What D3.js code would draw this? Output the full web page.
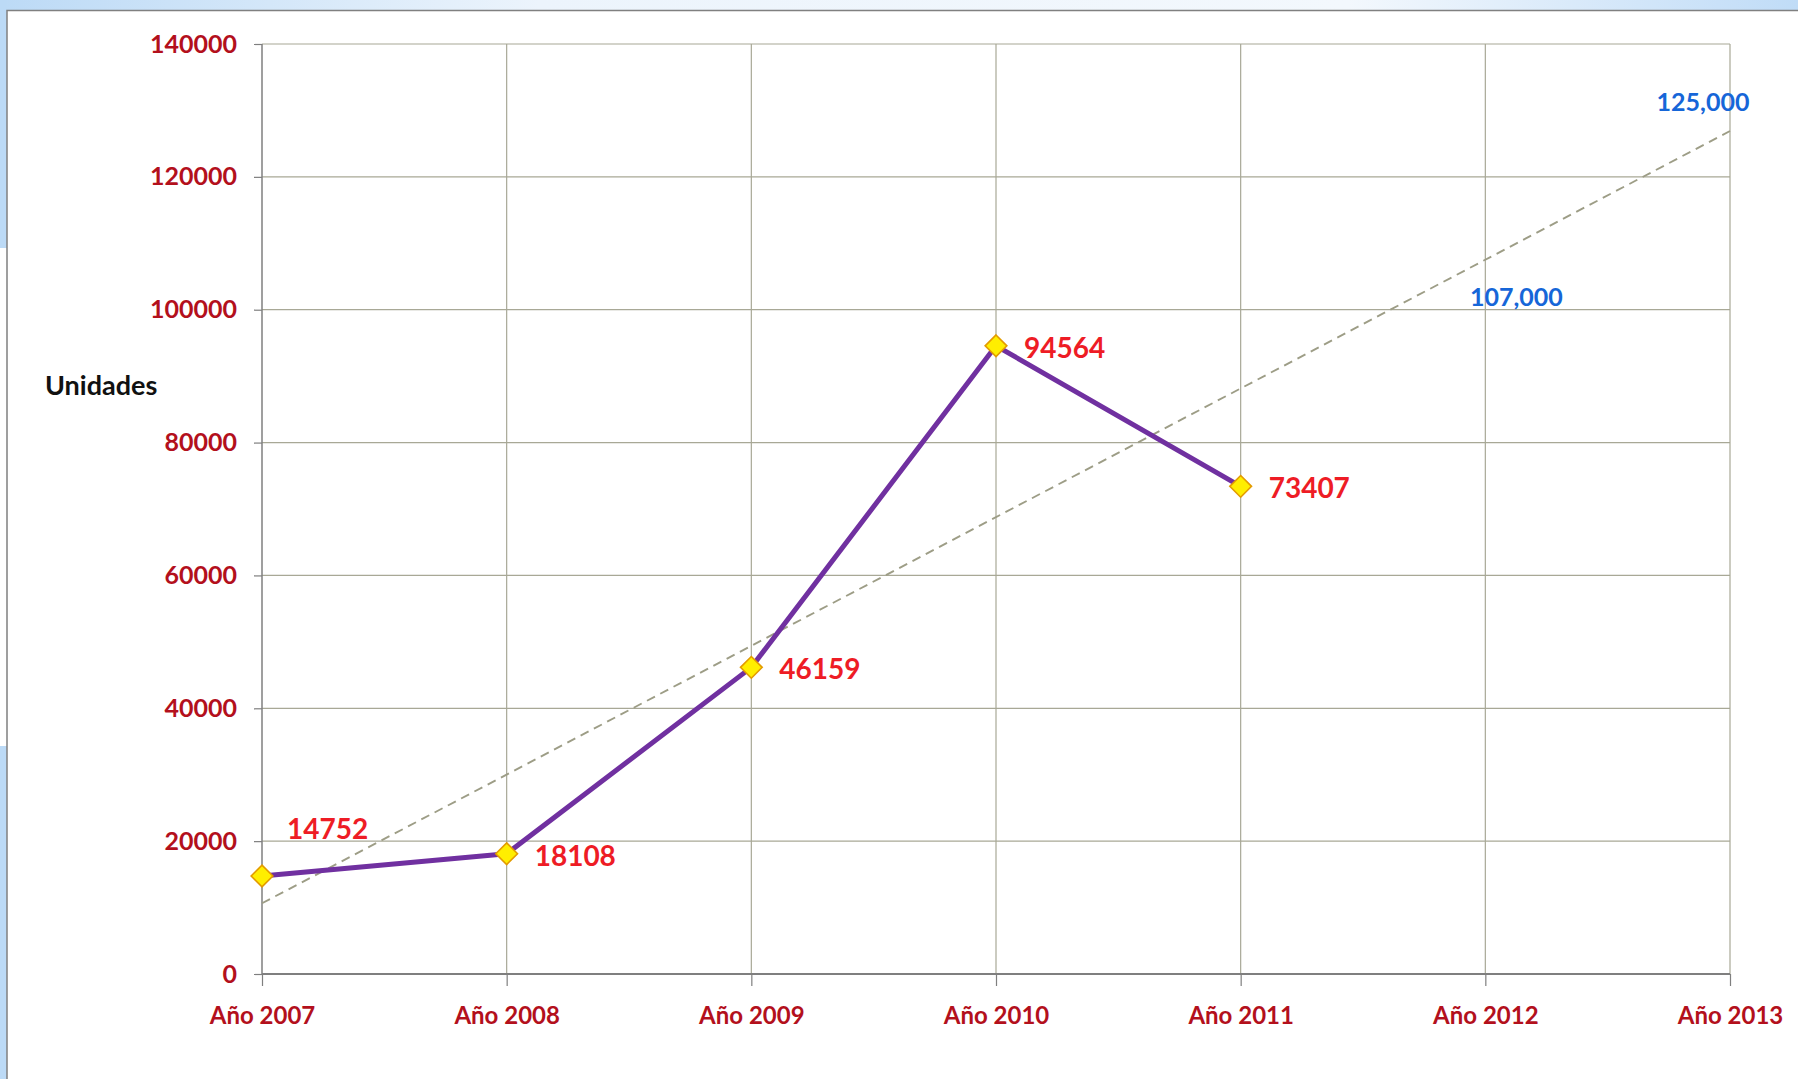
<!DOCTYPE html>
<meta charset="utf-8">
<style>
  body { margin: 0; background: #fff; }
  svg { display: block; }
  text { font-family: Lato, "Open Sans", sans-serif; font-weight: bold; }
  .axis path { display: none; }
  .axis line { stroke: #7f7f7f; stroke-width: 1.2; }
  .axis text { fill: #b3101c; font-size: 25px; }
  .xaxis text { font-size: 24px; }
  .grid line { stroke: #a8a896; stroke-width: 1.2; }
  .dato { fill: #ee1c25; font-size: 28px; }
  .meta { fill: #1666d8; font-size: 25px; }
</style>
<body>
<svg id="chart" width="1798" height="1079"></svg>
<script src="https://cdnjs.cloudflare.com/ajax/libs/d3/7.8.5/d3.min.js"></script>
<script>

  // categories and values
  const years = ["Año 2007", "Año 2008", "Año 2009", "Año 2010", "Año 2011", "Año 2012", "Año 2013"];
  const soldYears = ["Año 2007", "Año 2008", "Año 2009", "Año 2010", "Año 2011"];
  const units = [14752, 18108, 46159, 94564, 73407];
  const yTicks = [0, 20000, 40000, 60000, 80000, 100000, 120000, 140000];
  // dashed trend line, ends
  const trendYears = ["Año 2007", "Año 2013"];
  const trendValues = [10650, 126900];
  // blue forecast labels
  const forecastYears = ["Año 2012", "Año 2013"];
  const forecastValues = [107000, 125000];

  const svg = d3.select("#chart");
  const W = +svg.attr("width"), H = +svg.attr("height");

  // window frame bits: top gradient strip, left blue strip, border
  const defs = svg.append("defs");
  const grad = defs.append("linearGradient").attr("id", "topGrad");
  grad.append("stop").attr("offset", "0").attr("stop-color", "#bcdaf6");
  grad.append("stop").attr("offset", "0.3").attr("stop-color", "#ecf4fc");
  grad.append("stop").attr("offset", "0.75").attr("stop-color", "#f3f8fd");
  grad.append("stop").attr("offset", "1").attr("stop-color", "#c0dcf7");
  svg.append("rect").attr("x", 0).attr("y", 0).attr("width", W).attr("height", 10).attr("fill", "url(#topGrad)");
  svg.append("rect").attr("x", 0).attr("y", 0).attr("width", 7).attr("height", 248).attr("fill", "#bcdaf6");
  svg.append("rect").attr("x", 0).attr("y", 746).attr("width", 7).attr("height", H - 746).attr("fill", "#bcdaf6");
  svg.append("path")
    .attr("d", `M7,${H} V10.5 H${W}`)
    .attr("fill", "none").attr("stroke", "#808080").attr("stroke-width", 1.5);

  const plotLeft = 262, plotRight = 1730, plotTop = 44, plotBottom = 974;

  const x = d3.scalePoint().domain(years).range([plotLeft, plotRight]).padding(0);
  const y = d3.scaleLinear().domain([0, 140000]).range([plotBottom, plotTop]);

  // grid
  svg.append("g").attr("class", "grid")
    .selectAll("line.h").data(yTicks.slice(1)).enter().append("line")
    .attr("x1", plotLeft).attr("x2", plotRight)
    .attr("y1", d => y(d)).attr("y2", d => y(d));
  svg.append("g").attr("class", "grid")
    .selectAll("line.v").data(years.slice(1)).enter().append("line")
    .attr("x1", d => x(d)).attr("x2", d => x(d))
    .attr("y1", plotTop).attr("y2", plotBottom);

  // axes
  svg.append("g").attr("class", "axis yaxis")
    .attr("transform", `translate(${plotLeft},0)`)
    .call(d3.axisLeft(y).tickValues(yTicks).tickFormat(d3.format("d")).tickSize(8).tickPadding(17));
  svg.append("g").attr("class", "axis xaxis")
    .attr("transform", `translate(0,${plotBottom})`)
    .call(d3.axisBottom(x).tickSize(12).tickPadding(21));

  svg.append("line")
    .attr("x1", plotLeft).attr("x2", plotLeft).attr("y1", plotTop).attr("y2", plotBottom)
    .attr("stroke", "#7f7f7f").attr("stroke-width", 1.5);
  svg.append("line")
    .attr("x1", plotLeft).attr("x2", plotRight).attr("y1", plotBottom).attr("y2", plotBottom)
    .attr("stroke", "#7f7f7f").attr("stroke-width", 2);

  svg.append("text")
    .attr("x", 45).attr("y", 386).attr("dy", "0.35em")
    .attr("fill", "#111").style("font-size", "27px")
    .text("Unidades");

  // trend
  svg.append("line")
    .attr("x1", x(trendYears[0])).attr("y1", y(trendValues[0]))
    .attr("x2", x(trendYears[1])).attr("y2", y(trendValues[1]))
    .attr("stroke", "#9d9d86").attr("stroke-width", 1.9)
    .attr("stroke-dasharray", "9,6");

  // series line
  const line = d3.line().x((d, i) => x(soldYears[i])).y(d => y(d));
  svg.append("path")
    .datum(units)
    .attr("d", line)
    .attr("fill", "none")
    .attr("stroke", "#7030a0")
    .attr("stroke-width", 5)
    .attr("stroke-linejoin", "round");

  // markers
  const diamond = d3.symbol().type(d3.symbolDiamond2).size(300);
  svg.selectAll("path.marker").data(units).enter().append("path")
    .attr("class", "marker")
    .attr("d", diamond)
    .attr("transform", (d, i) => `translate(${x(soldYears[i])},${y(d)})`)
    .attr("fill", "#ffee00")
    .attr("stroke", "#e39b00")
    .attr("stroke-width", 1.6);

  // data labels
  svg.selectAll("text.dato").data(units).enter().append("text")
    .attr("class", "dato")
    .attr("x", (d, i) => x(soldYears[i]) + (i === 0 ? 25 : 28))
    .attr("y", (d, i) => y(d) + (i === 0 ? -47 : 2))
    .attr("dy", "0.35em")
    .text(d => d);

  // forecast labels
  const fmt = d3.format(",");
  svg.selectAll("text.meta").data(forecastValues).enter().append("text")
    .attr("class", "meta")
    .attr("text-anchor", "middle")
    .attr("x", (d, i) => x(forecastYears[i]) + (i === 0 ? 31 : -27))
    .attr("y", (d, i) => y(d) + (i === 0 ? 34 : -41))
    .attr("dy", "0.35em")
    .text(d => fmt(d));

</script>
</body>
